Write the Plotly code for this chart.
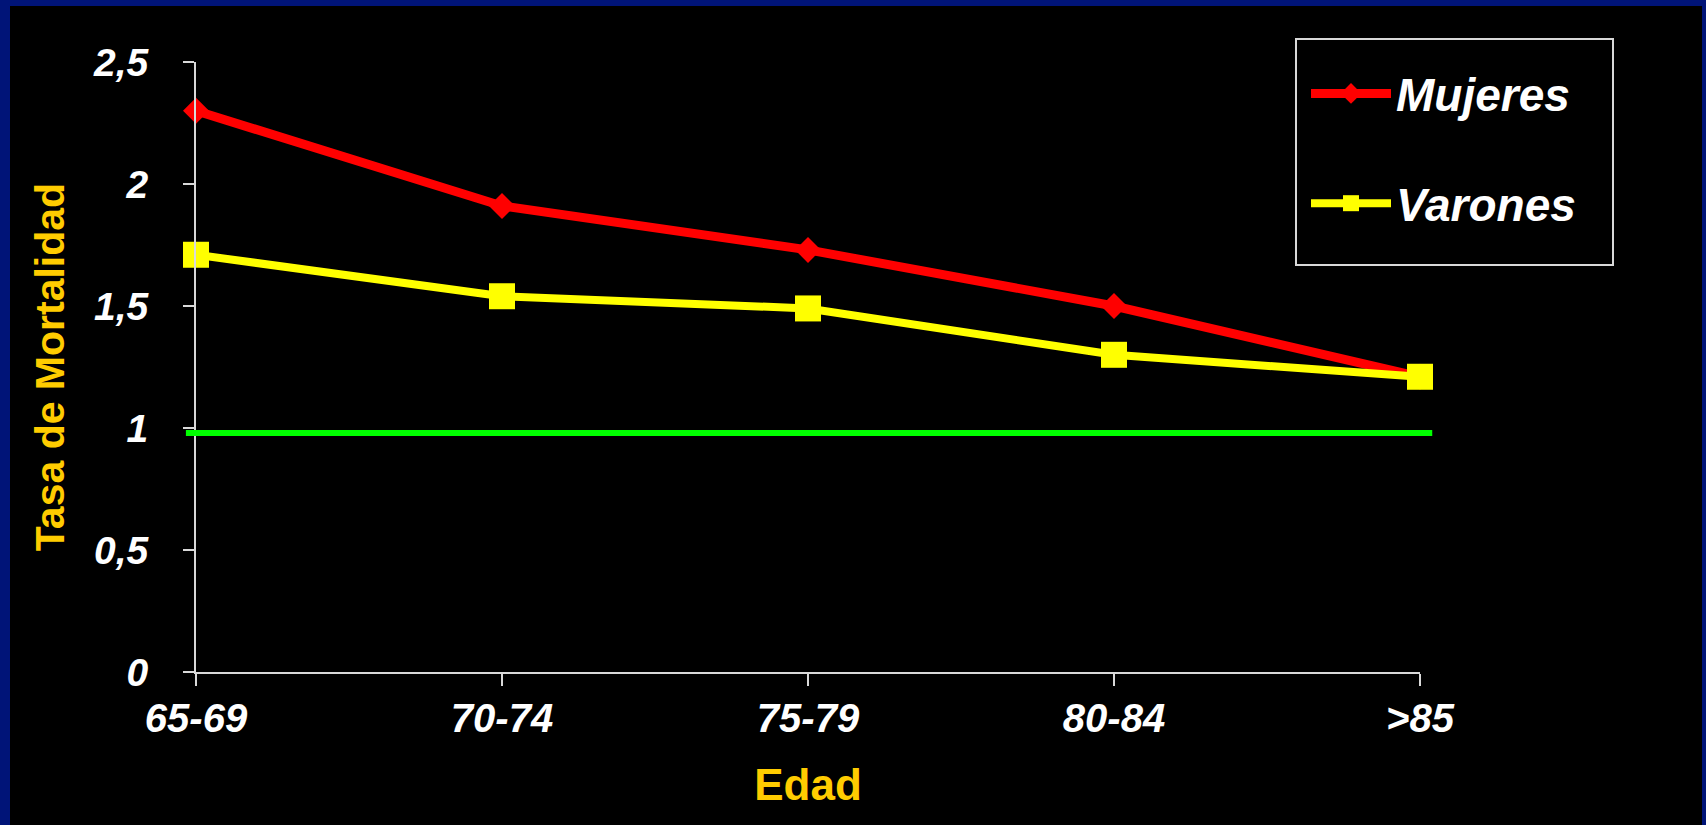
import plotly.graph_objects as go

categories = ["65-69", "70-74", "75-79", "80-84", ">85"]
mujeres = [2.30, 1.91, 1.73, 1.50, 1.21]
varones = [1.71, 1.54, 1.49, 1.30, 1.21]
ref_level = 0.98
y_ticks = [0, 0.5, 1, 1.5, 2, 2.5]
Y_MAX = 2.5

FONT = "Liberation Sans, Arial, sans-serif"
W, H = 1706, 825
ML, MR, MT, MB = 196, 286, 62, 153
PW, PH = W - ML - MR, H - MT - MB


def px_x(p):
    return (p - ML) / PW


def px_y(p):
    return (H - MB - p) / PH


n_last = len(categories) - 1

fig = go.Figure()
fig.add_trace(go.Scatter(
    x=categories, y=mujeres, name="Mujeres", mode="lines+markers",
    line=dict(color="#FF0000", width=9),
    marker=dict(symbol="diamond", size=20, color="#FF0000"),
    legendgroup="m", cliponaxis=False,
))
fig.add_trace(go.Scatter(
    x=categories, y=varones, name="Varones", mode="lines+markers",
    line=dict(color="#FFFF00", width=8),
    marker=dict(symbol="square", size=26, color="#FFFF00"),
    legendgroup="v", cliponaxis=False,
))

# black canvas inside blue frame
fig.add_shape(type="rect", xref="paper", yref="paper", layer="below",
              x0=px_x(10), x1=px_x(1702), y0=px_y(830), y1=px_y(6),
              fillcolor="#000000", line=dict(width=0))
# legend frame
fig.add_shape(type="rect", xref="paper", yref="paper", layer="below",
              x0=px_x(1296), x1=px_x(1613), y0=px_y(265), y1=px_y(39),
              fillcolor="#000000", line=dict(color="#D9D9D9", width=2))
# reference line (slightly overshooting the category span, as in the original)
fig.add_shape(type="line", xref="paper", yref="paper", layer="above",
              x0=-0.033 / n_last, x1=(n_last + 0.04) / n_last,
              y0=ref_level / Y_MAX, y1=ref_level / Y_MAX,
              line=dict(color="#00FF00", width=6))

fig.update_layout(
    width=W, height=H,
    margin=dict(l=ML, r=MR, t=MT, b=MB, pad=0, autoexpand=False),
    paper_bgcolor="#001478",
    plot_bgcolor="#000000",
    separators=",.",
    font=dict(family=FONT, color="#FFFFFF"),
    showlegend=True,
    legend=dict(
        x=px_x(1306), y=px_y(57), xanchor="left", yanchor="top",
        bgcolor="rgba(0,0,0,0)", borderwidth=0,
        font=dict(family=FONT, size=46, color="#FFFFFF", weight="bold", style="italic"),
        tracegroupgap=47, itemwidth=80,
    ),
    xaxis=dict(
        type="category", range=[0, n_last], showgrid=False, zeroline=False,
        showline=True, linecolor="#D9D9D9", linewidth=2,
        ticks="outside", ticklen=12, tickwidth=2, tickcolor="#D9D9D9",
        tickfont=dict(family=FONT, size=40, color="#FFFFFF", weight="bold", style="italic"),
        ticklabelstandoff=-2,
        title=dict(text="Edad", standoff=30,
                   font=dict(family=FONT, size=44, color="#FFCC00", weight="bold")),
    ),
    yaxis=dict(
        range=[0, Y_MAX], tickvals=y_ticks, showgrid=False, zeroline=False,
        showline=True, linecolor="#D9D9D9", linewidth=2,
        ticks="outside", ticklen=11, tickwidth=2, tickcolor="#D9D9D9",
        tickfont=dict(family=FONT, size=39, color="#FFFFFF", weight="bold", style="italic"),
        ticklabelstandoff=27,
        title=dict(text="Tasa de Mortalidad", standoff=16,
                   font=dict(family=FONT, size=41, color="#FFCC00", weight="bold")),
    ),
)

fig.write_html(
    "out.html",
    config={"displayModeBar": False},
    post_script="document.body.style.margin='0';document.body.style.overflow='hidden';",
)
